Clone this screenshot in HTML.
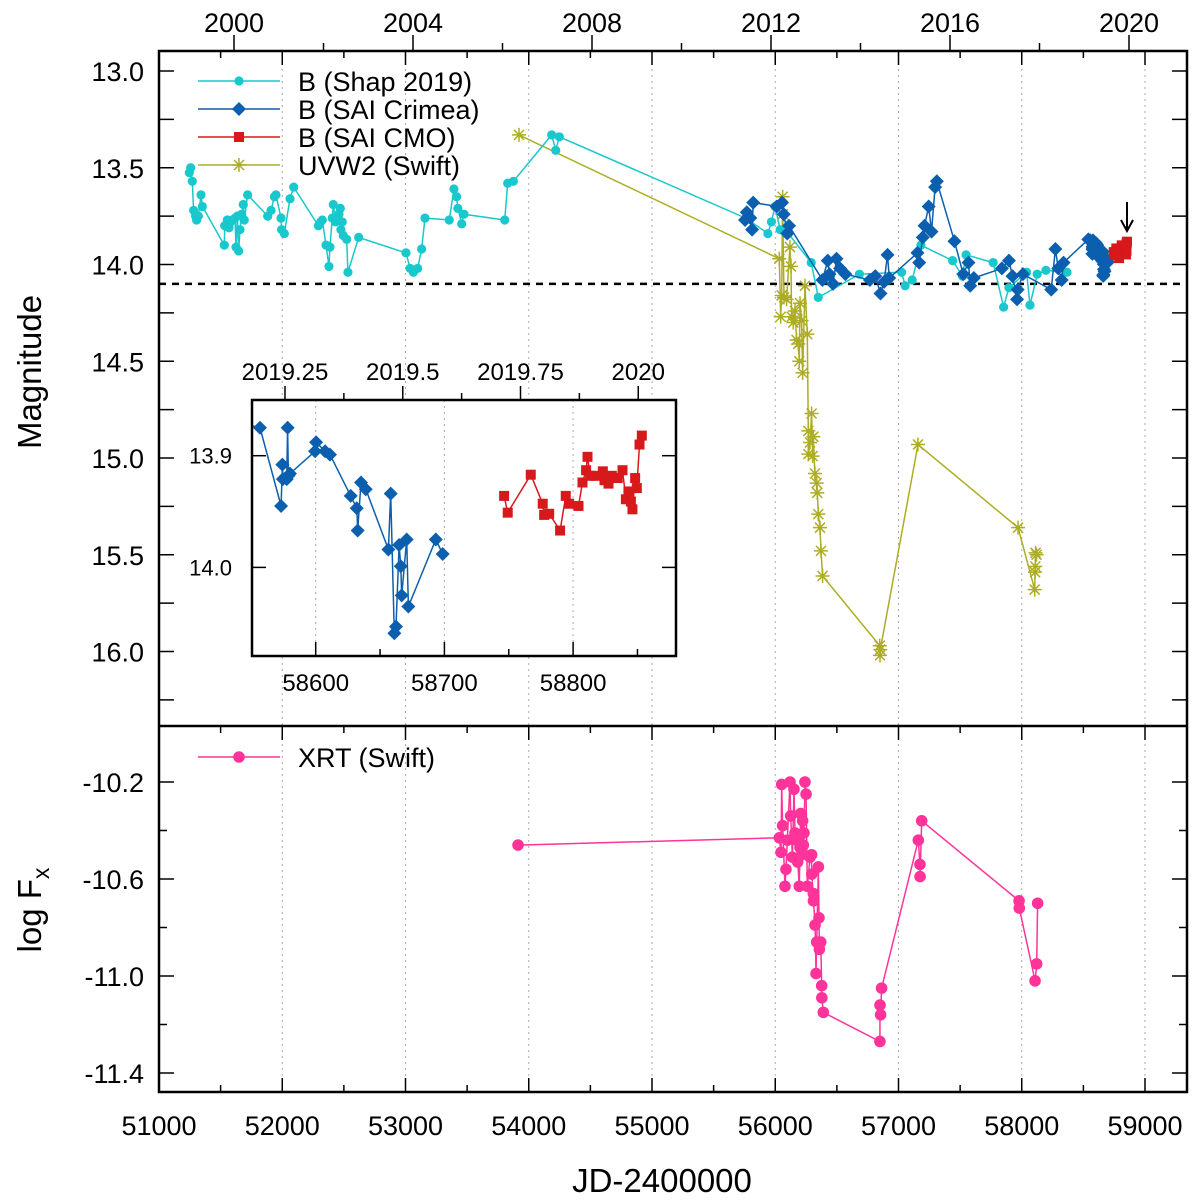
<!DOCTYPE html>
<html><head><meta charset="utf-8">
<style>
html,body{margin:0;padding:0;background:#fff;}
svg{display:block;font-family:"Liberation Sans",Arial,sans-serif;}
</style></head>
<body>
<svg id="chart" width="1200" height="1202" viewBox="0 0 1200 1202" xmlns="http://www.w3.org/2000/svg">
<defs>
<clipPath id="clipTop"><rect x="159" y="51" width="1028" height="675"/></clipPath>
<clipPath id="clipBot"><rect x="159" y="726" width="1028" height="366"/></clipPath>
<clipPath id="clipIn"><rect x="252" y="400" width="424" height="256"/></clipPath>
</defs>
<g id="gTop"></g>
<g id="gBot"></g>
<g id="gIn"></g>
</svg>
<script>
const shapJD=[51246,51257,51270,51281,51297,51305,51319,51341,51352,51530,51533,51554,51568,51581,51595,51617,51625,51636,51646,51657,51671,51684,51692,51719,51882,51909,51936,51949,51990,51995,52017,52063,52093,52293,52312,52325,52355,52379,52387,52406,52414,52433,52450,52460,52471,52476,52487,52495,52523,52533,52620,53004,53037,53064,53099,53131,53158,53355,53393,53415,53425,53456,53474,53805,53829,53875,54186,54219,54248,55760,55940,55969,55998,56040,56106,56292,56349,56683,57025,57054,57111,57182,57439,57519,57548,57768,57853,57896,58039,58067,58125,58196,58367];
const shapMag=[13.525,13.50,13.57,13.72,13.75,13.77,13.75,13.64,13.70,13.90,13.80,13.77,13.81,13.78,13.77,13.76,13.91,13.75,13.93,13.82,13.74,13.69,13.77,13.64,13.75,13.72,13.65,13.64,13.76,13.82,13.84,13.66,13.60,13.80,13.78,13.77,13.90,14.01,13.91,13.76,13.69,13.78,13.77,13.74,13.71,13.82,13.78,13.85,13.87,14.04,13.86,13.94,14.02,14.04,14.02,13.92,13.76,13.77,13.61,13.65,13.71,13.79,13.74,13.77,13.58,13.57,13.33,13.41,13.34,13.76,13.84,13.78,13.70,13.82,13.84,13.99,14.17,14.05,14.04,14.11,14.08,13.90,13.98,14.06,13.95,13.99,14.22,14.12,14.04,14.21,14.05,14.03,14.04];
const crimeaJD=[55755,55769,55798,55812,55821,56012,56055,56069,56097,56112,56383,56426,56440,56469,56497,56526,56569,56768,56811,56854,56883,56911,56925,57154,57168,57197,57211,57245,57268,57297,57311,57454,57525,57568,57582,57611,57839,57896,57925,57962,57967,58010,58239,58273,58296,58324,58339,58540,58556.7,58573.1,58574.1,58574.5,58577.5,58578.2,58578.8,58580.0,58599.5,58600.3,58607.3,58611.1,58627.2,58631.9,58632.6,58635.2,58638.9,58656.5,58658.3,58661.1,58662.4,58664.8,58666.1,58666.8,58670.7,58672.0,58693.3,58698.7];
const crimeaMag=[13.77,13.73,13.76,13.82,13.68,13.70,13.68,13.74,13.84,13.80,14.08,13.98,14.05,14.10,13.97,14.02,14.05,14.08,14.06,14.15,14.09,13.95,14.07,13.94,13.99,13.86,13.80,13.70,13.83,13.60,13.57,13.88,14.05,13.99,14.11,14.07,14.02,13.98,14.06,14.18,14.13,14.05,14.13,13.92,14.02,14.08,13.99,13.87,13.875,13.945,13.908,13.921,13.921,13.875,13.918,13.916,13.896,13.888,13.896,13.899,13.936,13.947,13.967,13.924,13.930,13.984,13.934,14.059,14.053,13.980,13.999,14.025,13.975,14.035,13.975,13.988];
const cmoJD=[58746.4,58749.2,58767.1,58776.4,58777.5,58781.4,58789.9,58794.3,58796.9,58804.2,58807.3,58810.1,58811.2,58813.2,58817.1,58823.1,58824.4,58827.5,58830.1,58834.7,58838.4,58841.0,58843.0,58844.9,58846.1,58848.2,58849.5,58851.6,58853.4];
const cmoMag=[13.936,13.951,13.917,13.943,13.953,13.952,13.967,13.936,13.943,13.945,13.924,13.913,13.901,13.918,13.918,13.914,13.922,13.925,13.918,13.920,13.913,13.939,13.932,13.941,13.948,13.920,13.929,13.890,13.882];
const uvJD=[53921,56033,56044,56052,56060,56061,56071,56092,56119,56128,56133,56146,56160,56173,56187,56195,56201,56214,56222,56241,56260,56268,56269,56282,56295,56303,56309,56322,56336,56341,56349,56363,56371,56384,56848,56850,56852,57158,57970,58105,58108,58110,58112,58120];
const uvMag=[13.33,13.97,14.27,14.16,13.65,13.74,14.17,14.18,13.91,14.01,14.27,14.30,14.24,14.39,14.41,14.50,14.20,14.29,14.56,14.11,14.36,14.86,14.98,14.92,14.77,14.99,14.89,15.08,15.13,15.18,15.29,15.36,15.48,15.61,15.97,16.02,15.99,14.93,15.36,15.68,15.59,15.56,15.49,15.50];
const xrtJD=[53913,56033,56047,56052,56060,56079,56087,56098,56120,56125,56139,56152,56160,56174,56182,56195,56201,56206,56214,56222,56228,56233,56241,56250,56260,56282,56295,56296,56309,56310,56323,56331,56336,56350,56355,56358,56369,56377,56378,56390,56849,56850,56855,56863,57161,57174,57175,57188,57978,57980,58108,58121,58129];
const xrtLogF=[-10.46,-10.43,-10.49,-10.21,-10.38,-10.63,-10.56,-10.44,-10.20,-10.34,-10.51,-10.23,-10.41,-10.44,-10.53,-10.63,-10.47,-10.33,-10.50,-10.36,-10.46,-10.41,-10.20,-10.25,-10.63,-10.51,-10.50,-10.58,-10.66,-10.69,-10.79,-10.99,-10.86,-10.55,-10.76,-10.89,-10.86,-11.04,-11.09,-11.15,-11.27,-11.12,-11.16,-11.05,-10.44,-10.54,-10.59,-10.36,-10.69,-10.72,-11.02,-10.95,-10.70];
const magTicks=[13.0,13.5,14.0,14.5,15.0,15.5,16.0];
const fxTicks=[-10.2,-10.6,-11.0,-11.4];
const jdTicks=[51000,52000,53000,54000,55000,56000,57000,58000,59000];
const yearTicks=[2000,2004,2008,2012,2016,2020];
const insetJDTicks=[58600,58700,58800];
const insetMagTicks=[13.9,14.0];
const insetYearTicks=[2019.25,2019.5,2019.75,2020];
const insetYearLabels=["2019.25","2019.5","2019.75","2020"];

const NS="http://www.w3.org/2000/svg";
const X=jd=>159+(jd-51000)*0.12325;
const YM=m=>71+(m-13)*193.5;
const YF=v=>782-(v+10.2)*242.5;
const XY=y=>234+(y-2000)*44.75;
const XI=jd=>315.7+(jd-58600)*1.287;
const YI=m=>455.7+(m-13.9)*1117;
const XIY=y=>285+(y-2019.25)*471;
function el(tag,attrs,parent){const e=document.createElementNS(NS,tag);for(const k in attrs)e.setAttribute(k,attrs[k]);parent.appendChild(e);return e;}
function txt(s,x,y,size,anchor,parent){const t=el('text',{x:x,y:y,'font-size':size,'text-anchor':anchor,fill:'#000'},parent);t.textContent=s;return t;}
function sorted(xs,ys){const idx=xs.map((_,i)=>i).sort((a,b)=>xs[a]-xs[b]);return [idx.map(i=>xs[i]),idx.map(i=>ys[i])];}
function marker(type,cx,cy,color,g){
  let m;
  if(type==='circle'){m=el('circle',{cx:cx,cy:cy,r:4.6,fill:color},g);}
  else if(type==='bigcircle'){m=el('circle',{cx:cx,cy:cy,r:5.8,fill:color},g);}
  else if(type==='diamond'){m=el('polygon',{points:`${cx},${cy-7} ${cx+7},${cy} ${cx},${cy+7} ${cx-7},${cy}`,fill:color},g);}
  else if(type==='square'){m=el('rect',{x:cx-5,y:cy-5,width:10,height:10,fill:color},g);}
  else {m=el('path',{d:`M${cx-7},${cy}H${cx+7}M${cx},${cy-7}V${cy+7}M${cx-5},${cy-5}L${cx+5},${cy+5}M${cx-5},${cy+5}L${cx+5},${cy-5}`,stroke:color,'stroke-width':1.5,fill:'none'},g);}
  return m;
}
function series(xs,ys,fx,fy,color,type,parent,name){
  const g=el('g',{},parent);
  
  
  const [sx,sy]=sorted(xs,ys);
  const pts=sx.map((v,i)=>fx(v).toFixed(1)+','+fy(sy[i]).toFixed(1)).join(' ');
  el('polyline',{points:pts,fill:'none',stroke:color,'stroke-width':1.5},g);
  sx.forEach((v,i)=>{const m=marker(type,fx(v),fy(sy[i]),color,g);
    
    });
}
const C_SHAP='#19c8cc',C_CRI='#0b5fae',C_CMO='#d7191c',C_UV='#adad25',C_X='#ff3399';

// ---- top panel
const gT=document.getElementById('gTop');
jdTicks.forEach(j=>{if(j>51000&&j<60000){
  const l=el('line',{x1:X(j),x2:X(j),y1:51,y2:726,stroke:'#aaa','stroke-width':1,'stroke-dasharray':'2,4'},gT);
  }});
const dash=el('line',{x1:159,x2:1187,y1:YM(14.1),y2:YM(14.1),stroke:'#000','stroke-width':2.5,'stroke-dasharray':'7,6'},gT);

const gTc=el('g',{'clip-path':'url(#clipTop)'},gT);
series(uvJD,uvMag,X,YM,C_UV,'star',gTc,'uvw2-swift-series');
series(shapJD,shapMag,X,YM,C_SHAP,'circle',gTc,'b-shap-series');
series(crimeaJD,crimeaMag,X,YM,C_CRI,'diamond',gTc,'b-crimea-series');
series(cmoJD,cmoMag,X,YM,C_CMO,'square',gTc,'b-cmo-series');
// arrow
const ar=el('g',{},gT);
el('line',{x1:1127,x2:1127,y1:202,y2:230,stroke:'#000','stroke-width':2},ar);
el('path',{d:'M1121,220 L1127,231 L1133,220',stroke:'#000','stroke-width':2,fill:'none'},ar);
// y ticks
for(let m=13.0;m<=16.26;m+=0.25){const y=YM(m);
  el('line',{x1:159,x2:174,y1:y,y2:y,stroke:'#000','stroke-width':1.5},gT);
  el('line',{x1:1172,x2:1187,y1:y,y2:y,stroke:'#000','stroke-width':1.5},gT);}
magTicks.forEach(m=>{const t=txt(m.toFixed(1),144,YM(m)+10,27,'end',gT);});
// top x ticks (JD inward)
for(let j=51500;j<59400;j+=500){const x=X(j);const len=(j%1000===0)?14:7;
  el('line',{x1:x,x2:x,y1:51,y2:51+len,stroke:'#000','stroke-width':1.5},gT);}
// year ticks outward
for(let yr=1999;yr<=2021;yr++){const x=XY(yr);if(x<159||x>1187)continue;
  if(yr%4===0) el('line',{x1:x,x2:x,y1:35,y2:51,stroke:'#000','stroke-width':1.5},gT);
  else if(yr%2===0) el('line',{x1:x,x2:x,y1:43,y2:51,stroke:'#000','stroke-width':1.5},gT);}
yearTicks.forEach(yr=>{const t=txt(String(yr),XY(yr),32,27,'middle',gT);});
// legend
const leg=el('g',{},gT);
[['B (Shap 2019)',C_SHAP,'circle'],['B (SAI Crimea)',C_CRI,'diamond'],['B (SAI CMO)',C_CMO,'square'],['UVW2 (Swift)',C_UV,'star']].forEach((d,i)=>{
  const y=81+i*28;const g=el('g',{},leg);
  
  el('line',{x1:198,x2:280,y1:y,y2:y,stroke:d[1],'stroke-width':1.5},g);
  marker(d[2],239,y,d[1],g);
  txt(d[0],298,y+10,27,'start',g);});
const yl=txt('Magnitude',0,0,33,'middle',gT);yl.setAttribute('transform','translate(41,372) rotate(-90)');


// ---- bottom panel
const gB=document.getElementById('gBot');
jdTicks.forEach(j=>{if(j>51000){
  const l=el('line',{x1:X(j),x2:X(j),y1:726,y2:1092,stroke:'#aaa','stroke-width':1,'stroke-dasharray':'2,4'},gB);
  }});
const gBc=el('g',{'clip-path':'url(#clipBot)'},gB);
series(xrtJD,xrtLogF,X,YF,C_X,'bigcircle',gBc,'xrt-swift-series');
for(let v=-10.2;v>=-11.41;v-=0.2){const y=YF(v);const len=(Math.round(v*10)%4===2||Math.round(v*10)%4===-2)?15:8;
  el('line',{x1:159,x2:159+len,y1:y,y2:y,stroke:'#000','stroke-width':1.5},gB);
  el('line',{x1:1187-len,x2:1187,y1:y,y2:y,stroke:'#000','stroke-width':1.5},gB);}
fxTicks.forEach(v=>{const t=txt(v.toFixed(1),144,YF(v)+10,27,'end',gB);});
for(let j=51000;j<=59000;j+=500){const x=X(j);const len=(j%1000===0)?14:7;
  el('line',{x1:x,x2:x,y1:1092-len,y2:1092,stroke:'#000','stroke-width':1.5},gB);
  el('line',{x1:x,x2:x,y1:726,y2:726+len,stroke:'#000','stroke-width':1.5},gB);}
jdTicks.forEach(j=>{const t=txt(String(j),X(j),1135,27,'middle',gB);});
const lg2=el('g',{},gB);
el('line',{x1:198,x2:280,y1:757,y2:757,stroke:C_X,'stroke-width':1.5},lg2);
marker('bigcircle',239,757,C_X,lg2);txt('XRT (Swift)',298,767,27,'start',lg2);
const yl2=el('text',{'font-size':33,'text-anchor':'middle',transform:'translate(41,910) rotate(-90)',fill:'#000'},gB);

yl2.innerHTML='log F<tspan font-size="23" dy="8">x</tspan>';
const xl=txt('JD-2400000',662,1192,33,'middle',gB);
// frames
const f=el('path',{d:'M159,51H1187V1092H159Z M159,726H1187',fill:'none',stroke:'#000','stroke-width':2.5},gB);


// ---- inset
const gI=document.getElementById('gIn');
el('rect',{x:252,y:400,width:424,height:256,fill:'#fff'},gI);
insetJDTicks.forEach(j=>{const l=el('line',{x1:XI(j),x2:XI(j),y1:400,y2:656,stroke:'#aaa','stroke-width':1,'stroke-dasharray':'2,4'},gI);
  });
const gIc=el('g',{'clip-path':'url(#clipIn)'},gI);
series(crimeaJD,crimeaMag,XI,YI,C_CRI,'diamond',gIc,'inset-crimea-series');
series(cmoJD,cmoMag,XI,YI,C_CMO,'square',gIc,'inset-cmo-series');
for(let j=58600;j<=58850;j+=50){const x=XI(j);const len=(j%100===0)?14:7;
  el('line',{x1:x,x2:x,y1:656-len,y2:656,stroke:'#000','stroke-width':1.5},gI);}
insetJDTicks.forEach(j=>{const t=txt(String(j),XI(j),691,24,'middle',gI);});
for(let y=2019.125;y<=2020.1;y+=0.125){const x=XIY(y);if(x<252||x>676)continue;
  el('line',{x1:x,x2:x,y1:400,y2:(Math.round(y*8)%2===0)?386:393,stroke:'#000','stroke-width':1.5},gI);}
insetYearTicks.forEach((y,i)=>{const t=txt(insetYearLabels[i],XIY(y),380,24,'middle',gI);});
insetMagTicks.forEach(m=>{const y=YI(m);
  el('line',{x1:252,x2:266,y1:y,y2:y,stroke:'#000','stroke-width':1.5},gI);
  el('line',{x1:662,x2:676,y1:y,y2:y,stroke:'#000','stroke-width':1.5},gI);
  const t=txt(m.toFixed(1),232,y+8,22,'end',gI);});
const fi=el('rect',{x:252,y:400,width:424,height:256,fill:'none',stroke:'#000','stroke-width':2.5},gI);

</script>
</body></html>
